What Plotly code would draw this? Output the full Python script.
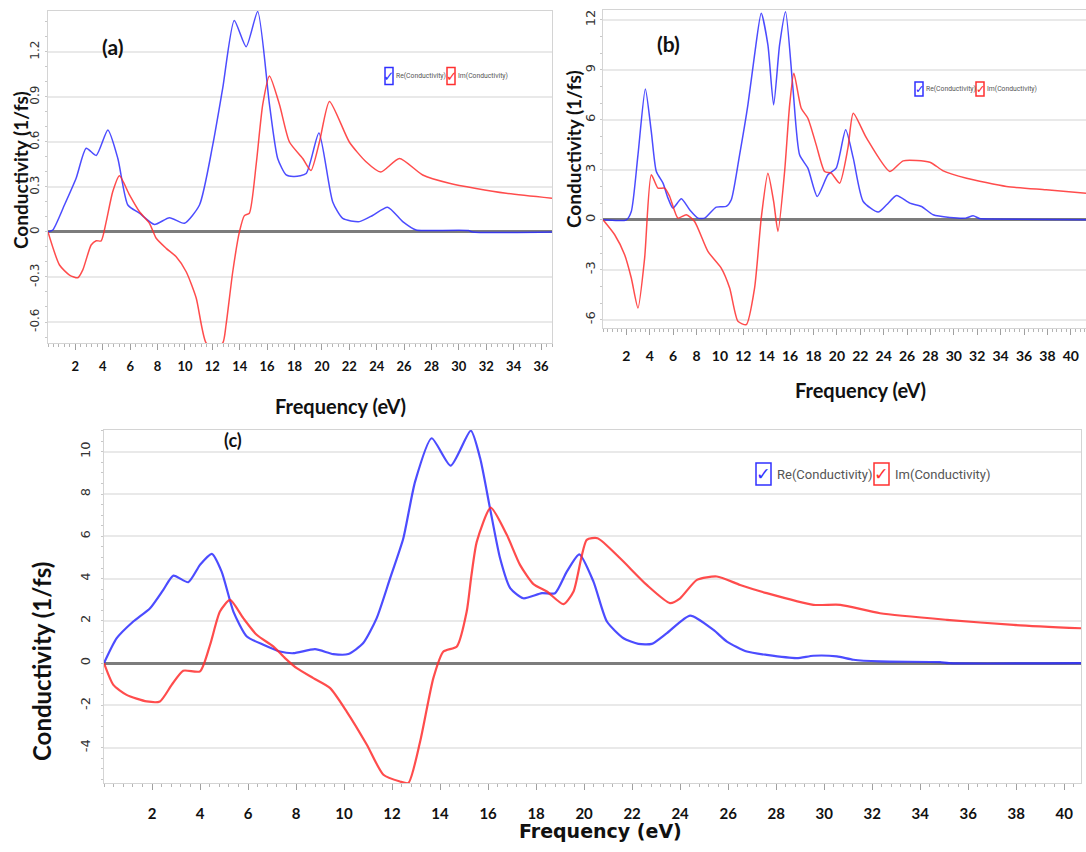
import plotly.graph_objects as go

# ---------------- data: optical conductivity (1/fs) vs photon energy (eV) ----------------
# panel (a)
a_re_x = [0, 0.35, 1.2, 2.06, 2.79, 3.52, 4.37, 5.1, 5.83, 6.68, 7.77, 8.87, 9.96, 11.06,
          12.03, 12.76, 13.6, 14.47, 15.31, 16.17, 16.77, 17.39, 18.0, 18.85, 19.78, 20.79,
          21.52, 22.74, 23.7, 24.8, 25.9, 26.88, 28.0, 30.7, 31.0, 36.8]
a_re_y = [0, 0.013, 0.18, 0.36, 0.558, 0.51, 0.68, 0.49, 0.18, 0.125, 0.05, 0.095, 0.058, 0.18,
          0.58, 0.96, 1.41, 1.235, 1.47, 0.85, 0.49, 0.38, 0.37, 0.39, 0.66, 0.2,
          0.09, 0.069, 0.11, 0.165, 0.069, 0.013, 0.01, 0.01, 0, 0]
a_im_x = [0, 0.84, 1.57, 2.18, 2.54, 3.15, 3.52, 3.88, 4.25, 4.73, 5.22, 5.95, 6.68, 7.41,
          7.9, 8.63, 9.36, 10.09, 10.82, 11.55, 12.2, 12.76, 13.0, 13.49, 13.98, 14.34, 14.7,
          15.2, 15.68, 16.17, 16.9, 17.63, 18.6, 19.2, 19.82, 20.55, 22.0, 23.2, 24.3, 25.66,
          27.36, 29.3, 31.26, 33.45, 36.8]
a_im_y = [0, -0.22, -0.287, -0.305, -0.253, -0.087, -0.058, -0.06, 0.069, 0.27, 0.375, 0.247,
          0.135, 0.058, -0.042, -0.109, -0.165, -0.265, -0.44, -0.74, -0.76, -0.74, -0.62,
          -0.265, 0.002, 0.109, 0.125, 0.45, 0.85, 1.04, 0.85, 0.6, 0.49, 0.41, 0.6, 0.87,
          0.6, 0.47, 0.40, 0.49, 0.38, 0.325, 0.29, 0.258, 0.225]

# panel (b)
b_re_x = [0, 2.0, 2.42, 2.99, 3.62, 4.13, 4.56, 5.13, 5.56, 5.98, 6.7, 7.41, 8.12, 8.69, 9.69,
          10.54, 10.97, 11.68, 12.39, 12.96, 13.53, 14.1, 14.59, 15.1, 15.61, 16.24, 16.81,
          17.52, 18.32, 19.23, 19.94, 20.75, 21.4, 22.25, 23.53, 24.25, 25.1, 26.24, 27.24,
          28.23, 29.66, 31.0, 31.65, 32.2, 33.1, 41.3]
b_re_y = [0, 0, 0.5, 3.9, 7.86, 5.3, 2.9, 2.2, 1.3, 0.7, 1.26, 0.6, 0.1, 0.1, 0.76,
          0.8, 1.2, 3.9, 6.9, 9.9, 12.4, 10.5, 6.9, 10.5, 12.5, 7.9, 3.9,
          3.1, 1.4, 2.7, 3.1, 5.4, 3.7, 1.1, 0.46, 0.9, 1.46, 1.0, 0.8,
          0.3, 0.14, 0.1, 0.24, 0.08, 0.05, 0]
b_im_x = [0, 1.0, 1.85, 2.42, 2.99, 3.56, 4.13, 4.7, 5.27, 5.7, 6.41, 7.12, 7.83, 8.97, 10.11,
          10.83, 11.54, 12.25, 12.96, 13.53, 14.1, 14.59, 14.96, 15.53, 15.96, 16.32, 16.95,
          17.52, 18.23, 18.95, 19.52, 20.23, 20.94, 21.4, 22.54, 24.53, 25.67, 27.95, 29.09,
          31.09, 34.5, 37.9, 41.3]
b_im_y = [0, -0.9, -2.1, -3.5, -5.3, -2.3, 2.7, 1.9, 1.9, 1.4, 0.1, 0.3, -0.1, -1.9, -2.9,
          -4.1, -6.1, -6.3, -4.1, 0.1, 2.8, 1.1, -0.7, 2.9, 6.9, 8.8, 6.7,
          6.1, 4.5, 2.9, 2.8, 2.2, 4.3, 6.4, 4.9, 2.9, 3.54, 3.46, 2.94,
          2.5, 2.0, 1.8, 1.6]

# panel (c)
c_re_x = [0, 0.53, 1.22, 1.92, 2.47, 2.89, 3.51, 4.0, 4.49, 4.9, 5.39, 5.95, 6.64, 7.33, 7.89,
          8.79, 9.55, 10.18, 10.8, 11.36, 11.92, 12.47, 12.96, 13.65, 14.44, 15.28, 15.67,
          16.08, 16.5, 16.92, 17.47, 18.24, 18.79, 19.28, 19.8, 20.39, 20.95, 21.64, 22.26,
          22.82, 23.45, 24.42, 25.39, 25.95, 26.78, 27.61, 28.86, 29.55, 30.53, 31.22, 32.33,
          34.83, 35.2, 40.7]
c_re_y = [0, 1.18, 1.97, 2.6, 3.47, 4.14, 3.83, 4.65, 5.17, 4.33, 2.44, 1.26, 0.87, 0.55, 0.47,
          0.66, 0.43, 0.43, 0.95, 2.13, 4.02, 5.91, 8.59, 10.64, 9.34, 11.0, 9.69,
          7.33, 4.96, 3.55, 3.07, 3.31, 3.31, 4.33, 5.15, 3.86, 1.97, 1.18, 0.91,
          0.91, 1.42, 2.25, 1.57, 1.02, 0.55, 0.39, 0.24, 0.35, 0.32, 0.16, 0.08,
          0.05, 0, 0]
c_im_x = [0, 0.39, 0.94, 1.78, 2.33, 2.82, 3.3, 4.0, 4.42, 4.83, 5.25, 5.8, 6.36, 7.05, 7.54,
          8.03, 8.72, 9.42, 10.11, 10.95, 11.64, 12.33, 12.68, 13.17, 13.72, 14.14, 14.7,
          15.11, 15.3, 15.53, 16.11, 16.78, 17.33, 17.89, 18.45, 19.14, 19.56, 20.11, 20.56,
          21.5, 22.61, 23.58, 24.0, 24.7, 25.53, 26.5, 27.61, 29.55, 30.67, 32.33, 35.11,
          37.89, 40.7]
c_im_y = [0, -1.03, -1.5, -1.81, -1.81, -1.03, -0.36, -0.39, 0.87, 2.44, 2.99, 2.13, 1.34, 0.79,
          0.24, -0.24, -0.71, -1.18, -2.29, -3.86, -5.28, -5.6, -5.67, -3.71, -0.71, 0.55,
          0.79, 2.44, 4.1, 5.75, 7.36, 6.07, 4.65, 3.74, 3.39, 2.79, 3.39, 5.83, 5.91,
          4.96, 3.7, 2.84, 3.07, 3.94, 4.1, 3.7, 3.31, 2.76, 2.76, 2.36, 2.05,
          1.81, 1.65]

# tick labels
a_xticks = list(range(2, 37, 2))
bc_xticks = list(range(2, 41, 2))
a_yticks = [-0.6, -0.3, 0, 0.3, 0.6, 0.9, 1.2]
a_yticktext = ["-0.6", "-0.3", "0", "0.3", "0.6", "0.9", "1.2"]
b_yticks = [-6, -3, 0, 3, 6, 9, 12]
b_yticktext = ["-6", "-3", "0", "3", "6", "9", "12"]
c_yticks = [-4, -2, 0, 2, 4, 6, 8, 10]
c_yticktext = ["-4", "-2", "0", "2", "4", "6", "8", "10"]

series_names = ["Re(Conductivity)", "Im(Conductivity)"]

# ---------------- figure ----------------
W, H = 1086, 852


def fx(p):
    return p / W


def fy(p):
    return 1 - p / H


BLUE = "rgba(45,45,255,0.85)"
RED = "rgba(255,45,45,0.85)"
TFONT = "Lato, 'Open Sans', sans-serif"

fig = go.Figure()

panels = [
    # (suffix, re data, im data, x range, y range, x px domain, y px domain, line width)
    ("", a_re_x, a_re_y, a_im_x, a_im_y, [0, 36.8], [-0.74, 1.473], (48, 552), (11, 343), 1.5),
    ("2", b_re_x, b_re_y, b_im_x, b_im_y, [0, 41.3], [-6.5, 12.6], (603, 1086), (10, 328), 1.5),
    ("3", c_re_x, c_re_y, c_im_x, c_im_y, [0, 40.7], [-5.67, 11.03], (104, 1081), (430, 783), 2.2),
]

for suf, rx, ry, ix, iy, xr, yr, xd, yd, lw in panels:
    xa = "x" + suf
    ya = "y" + suf
    fig.add_trace(go.Scatter(x=rx, y=ry, mode="lines", name=series_names[0],
                             line=dict(color=BLUE, width=lw, shape="spline", smoothing=0.6),
                             xaxis=xa, yaxis=ya, showlegend=False))
    fig.add_trace(go.Scatter(x=ix, y=iy, mode="lines", name=series_names[1],
                             line=dict(color=RED, width=lw, shape="spline", smoothing=0.6),
                             xaxis=xa, yaxis=ya, showlegend=False))

axis_common = dict(showline=True, linecolor="#d4d4d4", linewidth=1, mirror=True)

xtick_cfg = [
    (a_xticks, 13, 5, 0.4),
    (bc_xticks, 14, 9, 0.4),
    (bc_xticks, 15, 11, 0.4),
]
ytick_cfg = [
    (a_yticks, a_yticktext, 12, 3, 0.1),
    (b_yticks, b_yticktext, 13, 2, 1),
    (c_yticks, c_yticktext, 13, 8, 0.5),
]

layout = dict(width=W, height=H, margin=dict(l=0, r=0, t=0, b=0),
              paper_bgcolor="white", plot_bgcolor="white", showlegend=False)

for i, (suf, rx, ry, ix, iy, xr, yr, xd, yd, lw) in enumerate(panels):
    xt, xfs, xstand, xminor = xtick_cfg[i]
    yt, ytt, yfs, ystand, yminor = ytick_cfg[i]
    ykey = "yaxis" + suf
    xkey = "xaxis" + suf
    layout[xkey] = dict(
        domain=[fx(xd[0]), fx(xd[1])], range=xr, anchor="y" + suf,
        tickmode="array", tickvals=xt, ticktext=[str(v) for v in xt],
        ticks="outside", ticklen=6, tickcolor="#a0a0a0", tickwidth=1,
        ticklabelstandoff=xstand,
        tickfont=dict(family=TFONT, size=xfs, color="#111", weight="bold"),
        showgrid=False, zeroline=False,
        minor=dict(tickmode="linear", tick0=0, dtick=xminor, ticks="outside",
                   ticklen=3, tickcolor="#b5b5b5", showgrid=False),
        **axis_common)
    layout[ykey] = dict(
        domain=[fy(yd[1]), fy(yd[0])], range=yr, anchor="x" + suf,
        tickmode="array", tickvals=yt, ticktext=ytt, tickangle=-90,
        ticks="", ticklabelstandoff=ystand,
        tickfont=dict(family="'DejaVu Sans', sans-serif", size=yfs, color="#333"),
        showgrid=True, gridcolor="#e9e9e9", gridwidth=2,
        zeroline=True, zerolinecolor="#7c7c7c", zerolinewidth=3,
        minor=dict(tickmode="linear", tick0=0, dtick=yminor, ticks="outside",
                   ticklen=2, tickcolor="#c8c8c8", showgrid=False),
        **axis_common)

fig.update_layout(**layout)

ann = []
shapes = []


def text(x, y, s, size, family=TFONT, angle=0, color="#111", bold=True, xanchor="center"):
    ann.append(dict(x=fx(x), y=fy(y), xref="paper", yref="paper", text=s, showarrow=False,
                    textangle=angle, xanchor=xanchor, yanchor="middle",
                    font=dict(family=family, size=size, color=color,
                              weight="bold" if bold else "normal")))


# axis titles
text(20, 170, "Conductivity (1/fs)", 19, angle=-90)
text(340, 406, "Frequency (eV)", 20)
text(573, 149, "Conductivity (1/fs)", 19, angle=-90)
text(860, 390, "Frequency (eV)", 20)
text(41, 662, "Conductivity (1/fs)", 24, angle=-90)
text(600, 831, "Frequency (eV)", 19, family="'DejaVu Sans', sans-serif")

# panel tags
text(112, 46, "(a)", 21)
text(668, 43, "(b)", 21)
text(233, 440, "(c)", 18)


# check-box style series keys
def key(x0, yc, bw, bh, color, label, lx, fsize):
    shapes.append(dict(type="rect", xref="paper", yref="paper",
                       x0=fx(x0), x1=fx(x0 + bw), y0=fy(yc + bh / 2), y1=fy(yc - bh / 2),
                       line=dict(color=color, width=1.5), fillcolor="rgba(255,255,255,0.9)"))
    ann.append(dict(x=fx(x0 + bw / 2), y=fy(yc), xref="paper", yref="paper", text="✓",
                    showarrow=False, xanchor="center", yanchor="middle",
                    font=dict(family="'DejaVu Sans', sans-serif", size=bh * 0.8, color=color,
                              weight="bold")))
    text(lx, yc, label, fsize, family="Roboto, sans-serif",
         color="#555", bold=False, xanchor="left")


key(385, 76, 8, 17, "#3030ff", series_names[0], 393.5, 6.8)
key(447, 76, 8, 17, "#ff3030", series_names[1], 455.5, 6.8)
key(915, 89, 8, 14, "#3030ff", series_names[0], 924, 6.8)
key(976, 89, 8, 14, "#ff3030", series_names[1], 985, 6.8)
key(756, 474, 15, 22, "#3030ff", series_names[0], 775, 13)
key(874, 474, 15, 22, "#ff3030", series_names[1], 893, 13)

fig.update_layout(annotations=ann, shapes=shapes)

fig.write_html("out.html")
